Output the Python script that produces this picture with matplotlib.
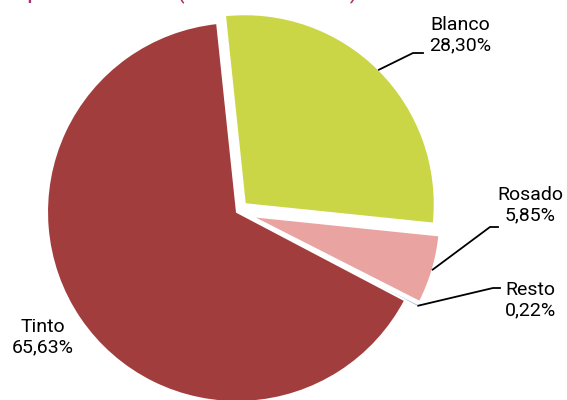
import matplotlib.pyplot as plt
import numpy as np

# data
tipos = ["Blanco", "Rosado", "Resto", "Tinto"]
porcentajes = [28.30, 5.85, 0.22, 65.63]
etiquetas = ["28,30%", "5,85%", "0,22%", "65,63%"]
colores = ["#cbd646", "#e9a3a1", "#8a82c4", "#a23d3d"]
# explode is in data units here (radius != 1)
separacion = [11, 14, 14, 0]

titulo = "Exportaciones de vino (% sobre volumen total)"

plt.rcParams["font.family"] = ["Roboto", "DejaVu Sans"]

fig = plt.figure(figsize=(5.67, 4.0), dpi=100)
ax = fig.add_axes([0, 0, 1, 1])

wedges, _ = ax.pie(
    porcentajes,
    colors=colores,
    explode=separacion,
    startangle=96,
    counterclock=False,
    center=(237, 188),
    radius=190,
    wedgeprops=dict(edgecolor="white", linewidth=1.5),
)
ax.set_xlim(0, 567)
ax.set_ylim(0, 400)
ax.set_aspect("equal")
ax.axis("off")

# label positions (text centre) and elbow of the leader line
pos_texto = {
    "Blanco": (460, 365),
    "Rosado": (530, 195),
    "Resto": (530, 100),
    "Tinto": (43, 63),
}
codo = {
    "Blanco": [(413, 347), (423, 347)],
    "Rosado": [(490, 173), (498, 173)],
    "Resto": [(493, 112), (500, 112)],
}

for w, nombre, et in zip(wedges, tipos, etiquetas):
    ang = np.deg2rad((w.theta1 + w.theta2) / 2)
    cx, cy = w.center
    ancla = (cx + w.r * np.cos(ang), cy + w.r * np.sin(ang))
    tx, ty = pos_texto[nombre]
    ax.text(tx, ty, nombre + "\n" + et, ha="center", va="center",
            fontsize=14, color="black", linespacing=1.15)
    if nombre in codo:
        pts = [ancla] + codo[nombre]
        ax.plot([p[0] for p in pts], [p[1] for p in pts], color="black", lw=1.3)

# title cut by the top border (only the descenders show, as in the source)
fig.text(0.018, 0.9925, titulo, ha="left", va="bottom", fontsize=12,
         fontweight="bold", color="#a8326e")

fig.savefig("out.png", dpi=100)
